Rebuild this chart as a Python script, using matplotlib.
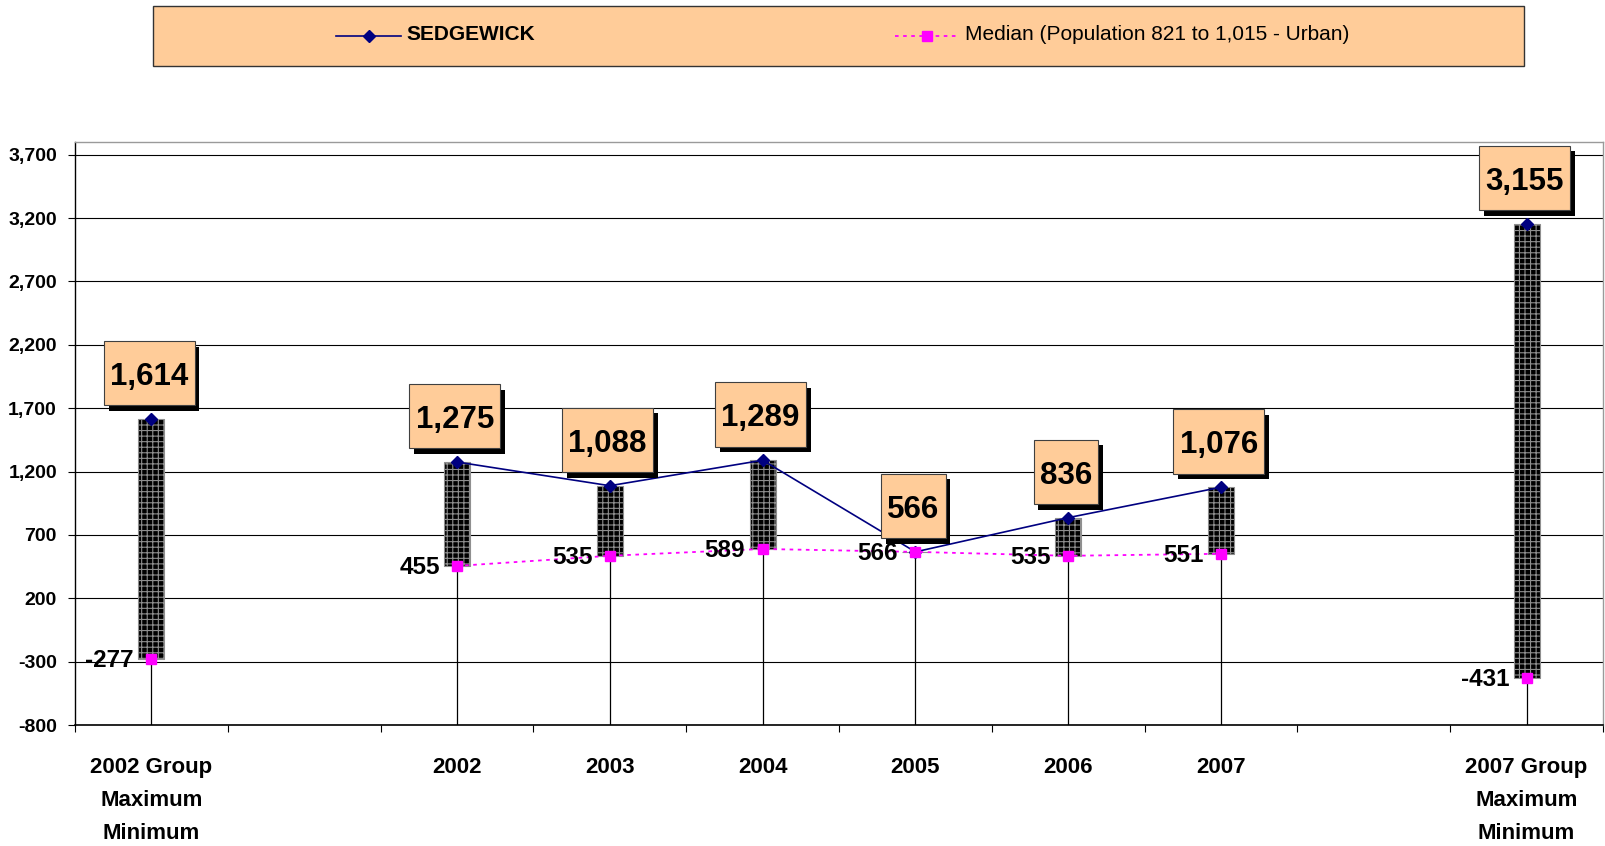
import matplotlib
matplotlib.use("Agg")
import matplotlib.pyplot as plt
import matplotlib.patheffects as pe
from matplotlib.path import Path
from matplotlib.patches import Rectangle
from matplotlib.lines import Line2D
from matplotlib.ticker import FuncFormatter
import numpy as np

plt.rcParams['font.family'] = ['Liberation Sans', 'DejaVu Sans']
plt.rcParams['hatch.linewidth'] = 0.8

# data
years = ["2002", "2003", "2004", "2005", "2006", "2007"]
sedgewick = [1275, 1088, 1289, 566, 836, 1076]
median = [455, 535, 589, 566, 535, 551]

group_labels = ["2002 Group\nMaximum\nMinimum", "2007 Group\nMaximum\nMinimum"]
group_max = [1614, 3155]
group_min = [-277, -431]

y_ticks = np.arange(-800, 3701, 500)

PEACH = "#FFCC99"
NAVY = "#000080"
MAGENTA = "#FF00FF"

W, H = 1606, 846
fig = plt.figure(figsize=(W / 100, H / 100), dpi=100)
ax = fig.add_axes([75 / W, 1 - 725 / H, (1603 - 75) / W, (725 - 142) / H])

# category slots: group | gap | 2002..2007 | gap | group
year_x = np.arange(len(years)) + 2
group_x = np.array([0, len(years) + 3])
all_x = np.concatenate([group_x, year_x])
all_max = np.concatenate([group_max, np.maximum(sedgewick, median)])
all_min = np.concatenate([group_min, np.minimum(sedgewick, median)])

ax.set_xlim(-0.5, len(years) + 3.5)
ax.set_ylim(-800, 3800)

# drop lines down to the category axis
ax.vlines(all_x, -800, all_min, color="black", lw=0.9, zorder=2)

# high-low bars
ax.bar(all_x, all_max - all_min, bottom=all_min, width=0.17,
       color="black", edgecolor="#8f8f8f", hatch="+++", lw=0.8, zorder=3)

ax.plot(year_x, sedgewick, color=NAVY, lw=1.2, marker="D", ms=6, zorder=4)
ax.plot(year_x, median, color=MAGENTA, lw=1.3, ls=(0, (2, 2.5)), marker="s",
        ms=7, zorder=5)
ax.plot(group_x, group_max, ls="none", color=NAVY, marker="D", ms=6, zorder=4)
ax.plot(group_x, group_min, ls="none", color=MAGENTA, marker="s", ms=7, zorder=5)


def label_box(x0, y0, width, height, mutation_size):
    px, top, bot = 0.2 * mutation_size, 0.67 * mutation_size, 0.43 * mutation_size
    xa, xb = x0 - px, x0 + width + px
    ya, yb = y0 - bot, y0 + height + top
    return Path([(xa, ya), (xb, ya), (xb, yb), (xa, yb), (xa, ya)], closed=True)


for x, hi, lo in zip(all_x, np.concatenate([group_max, sedgewick]),
                     np.concatenate([group_min, median])):
    t = ax.annotate(f"{hi:,}", (x, hi), xytext=(-1.6, 19.5), textcoords="offset points",
                    ha="center", va="bottom", fontsize=22.5, fontweight="bold",
                    zorder=6,
                    bbox=dict(boxstyle=label_box, fc=PEACH, ec="#404040", lw=0.8))
    t.get_bbox_patch().set_path_effects([
        pe.SimplePatchShadow(offset=(3.4, -4), shadow_rgbFace="black", alpha=1.0),
        pe.Normal()])
    ax.annotate(f"{lo:,}", (x, lo), xytext=(-12.5, -1), textcoords="offset points",
                ha="right", va="center", fontsize=17.5, fontweight="bold", zorder=6)

# axes styling
ax.set_yticks(y_ticks)
ax.yaxis.set_major_formatter(FuncFormatter(lambda v, p: f"{v:,.0f}"))
ax.yaxis.grid(True, color="black", lw=0.8)
ax.set_axisbelow(True)
ax.tick_params(axis="y", direction="out", length=5, width=0.8, pad=8, labelsize=14)
for lab in ax.get_yticklabels():
    lab.set_fontweight("bold")

ax.set_xticks(np.concatenate([group_x, year_x]))
ax.set_xticklabels(group_labels + years, fontsize=16, fontweight="bold",
                   linespacing=1.75, va="top")
ax.set_xticks(np.arange(-0.5, len(years) + 4), minor=True)
ax.tick_params(axis="x", which="major", length=0, pad=23)
ax.tick_params(axis="x", which="minor", direction="out", length=5, width=0.8)

for side in ("top", "right"):
    ax.spines[side].set_color("#9a9a9a")
    ax.spines[side].set_linewidth(1.0)
ax.spines["left"].set_linewidth(1.0)
ax.spines["bottom"].set_linewidth(1.2)

# legend drawn as a peach panel on the figure
fig.patches.append(Rectangle((153 / W, 1 - 66 / H), (1524 - 153) / W, 60 / H,
                             transform=fig.transFigure, fc=PEACH, ec="#333333", lw=1.0))
ly = 1 - 36 / H
fig.lines.append(Line2D([336 / W, 401 / W], [ly, ly], transform=fig.transFigure,
                        color=NAVY, lw=1.2))
fig.lines.append(Line2D([369 / W], [ly], transform=fig.transFigure, color=NAVY,
                        marker="D", ms=6))
fig.text(406 / W, 1 - 35 / H, "SEDGEWICK", fontsize=15, fontweight="bold", va="center")
fig.lines.append(Line2D([895 / W, 957 / W], [ly, ly], transform=fig.transFigure,
                        color=MAGENTA, lw=1.3, ls=(0, (2, 2.5))))
fig.lines.append(Line2D([927 / W], [ly], transform=fig.transFigure, color=MAGENTA,
                        marker="s", ms=7))
fig.text(965 / W, 1 - 35 / H, "Median (Population 821 to 1,015 - Urban)",
         fontsize=15, va="center")

fig.savefig("out.png", dpi=100)
